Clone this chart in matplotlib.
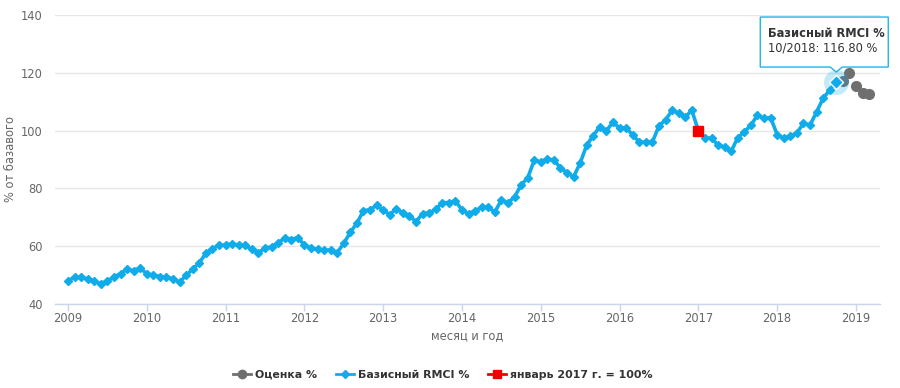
import matplotlib
matplotlib.use("Agg")
import matplotlib.pyplot as plt
from matplotlib.patches import Polygon
from matplotlib.lines import Line2D
import numpy as np

plt.rcParams['font.family'] = ['DejaVu Sans']

# ---- data ----
start_year = 2009
rmci = [48.0, 49.3, 49.3, 48.6, 47.8, 47.0, 48.0, 49.3, 50.5, 52.0, 51.5, 52.5,
        50.4, 50.0, 49.5, 49.2, 48.8, 47.5, 50.0, 52.0, 54.3, 57.5, 59.2, 60.3,
        60.4, 60.8, 60.4, 60.3, 59.0, 57.8, 59.3, 59.8, 61.0, 63.0, 62.3, 63.0,
        60.4, 59.3, 58.9, 58.7, 58.6, 57.8, 61.0, 64.8, 68.0, 72.3, 72.6, 74.2,
        72.5, 70.9, 73.0, 71.5, 70.5, 68.5, 71.3, 71.5, 72.8, 75.0, 75.1, 75.6,
        72.6, 71.2, 72.3, 73.4, 73.5, 71.8, 76.0, 75.0, 77.0, 81.2, 83.6, 89.7,
        89.2, 90.1, 89.9, 87.0, 85.5, 84.0, 88.8, 95.0, 98.3, 101.4, 99.9, 103.0,
        100.8, 100.9, 98.5, 96.0, 96.0, 96.1, 101.6, 103.7, 107.0, 106.1, 104.7, 107.0,
        100.0, 97.4, 97.4, 95.0, 94.3, 92.8, 97.6, 99.5, 101.9, 105.3, 104.3, 104.5,
        98.6, 97.4, 98.0, 99.2, 102.5, 101.9, 106.4, 111.2, 114.0, 116.8]
estimate_start_month = 118          # Nov 2018
estimate = [117.3, 120.0, 115.5, 113.0, 112.5]
base_month = 96                     # Jan 2017
base_value = 100.0
highlight_month = 117               # Oct 2018
year_ticks = list(range(2009, 2020))
y_ticks = [40, 60, 80, 100, 120, 140]

series_names = ['Оценка %', 'Базисный RMCI %', 'январь 2017 г. = 100%']
tooltip_title = 'Базисный RMCI %'
tooltip_text = '10/2018: 116.80 %'

BLUE = '#10acea'
GREY = '#6f6f6f'
RED = '#f20000'
TXT = '#666666'

x_rmci = start_year + np.arange(len(rmci)) / 12.0
x_est = start_year + (estimate_start_month + np.arange(len(estimate))) / 12.0
x_base = start_year + base_month / 12.0
x_hl = start_year + highlight_month / 12.0
y_hl = rmci[highlight_month]

W, H, DPI = 900, 388, 100
fig = plt.figure(figsize=(W / DPI, H / DPI), dpi=DPI)
ax = fig.add_axes([55 / W, 1 - 304 / H, (880 - 55) / W, (304 - 15) / H])

ax.set_xlim(2008.835, 2019.305)
ax.set_ylim(40, 140)

ax.plot(x_rmci, rmci, color=BLUE, lw=2.6, marker='D', ms=4.2, mec=BLUE, mfc=BLUE,
        zorder=3, label=series_names[1])
ax.plot(x_est, estimate, ls='none', marker='o', ms=7, color=GREY, zorder=4,
        label=series_names[0])
ax.plot([x_base], [base_value], ls='none', marker='s', ms=7.5, color=RED, zorder=5,
        label=series_names[2])

# highlighted point halo
ax.plot([x_hl], [y_hl], ls='none', marker='o', ms=18, color=BLUE, alpha=0.25,
        mew=0, zorder=6)
ax.plot([x_hl], [y_hl], ls='none', marker='D', ms=7, mfc=BLUE, mec='white',
        mew=1, zorder=7)

# axes styling
ax.set_xticks(year_ticks)
ax.set_xticklabels([str(y) for y in year_ticks])
ax.set_yticks(y_ticks)
ax.set_yticklabels([str(v) for v in y_ticks])
ax.grid(axis='y', color='#e6e6e6', lw=1)
ax.set_axisbelow(True)
for s in ['top', 'right', 'left']:
    ax.spines[s].set_visible(False)
ax.spines['bottom'].set_color('#ccd6eb')
ax.spines['bottom'].set_linewidth(1)
ax.tick_params(axis='x', colors='#ccd6eb', length=5, width=1, labelcolor=TXT,
               labelsize=8.3, pad=1)
ax.tick_params(axis='y', length=0, labelcolor=TXT, labelsize=8.3, pad=9)
ax.set_xlabel('месяц и год', color=TXT, fontsize=8.3, labelpad=3)
ax.set_ylabel('% от базавого', color=TXT, fontsize=8.3, va='center')
ax.yaxis.set_label_coords((11 - 55) / 825, 0.5)

# legend
handles = [
    Line2D([], [], color=GREY, lw=2, marker='o', ms=6),
    Line2D([], [], color=BLUE, lw=2, marker='D', ms=4.5),
    Line2D([], [], color=RED, lw=2, marker='s', ms=6),
]
leg = fig.legend(handles, series_names, loc='center', bbox_to_anchor=(443 / W, 13 / H),
                 ncol=3, frameon=False, handlelength=1.6, handletextpad=0.4,
                 columnspacing=1.7, prop={'weight': 'bold', 'size': 7.9})
for t in leg.get_texts():
    t.set_color('#333333')

# menu icon
for yy in (21, 25, 29):
    fig.add_artist(Line2D([863 / W, 879 / W], [1 - yy / H, 1 - yy / H],
                          color='#cccccc', lw=2, transform=fig.transFigure))

# tooltip anchored to the highlighted point
fig.canvas.draw()
px, py = ax.transData.transform((x_hl, y_hl))
left, right, bottom, top = px - 76, px + 52, py + 15, py + 65
tip = py + 10
pts = [(left, bottom), (px - 6, bottom), (px, tip), (px + 6, bottom),
       (right, bottom), (right, top), (left, top)]
pts_fig = [fig.transFigure.inverted().transform(p) for p in pts]
fig.add_artist(Polygon(pts_fig, closed=True, fc='white', ec=BLUE, lw=1,
                       alpha=0.92, transform=fig.transFigure, zorder=10))
fig.text((left + 8) / W, (top - 16) / H, tooltip_title, fontsize=8.3,
         weight='bold', color='#333333', va='center', zorder=11)
fig.text((left + 8) / W, (top - 31) / H, tooltip_text, fontsize=8.3,
         color='#333333', va='center', zorder=11)

fig.savefig('out.png', dpi=DPI)
